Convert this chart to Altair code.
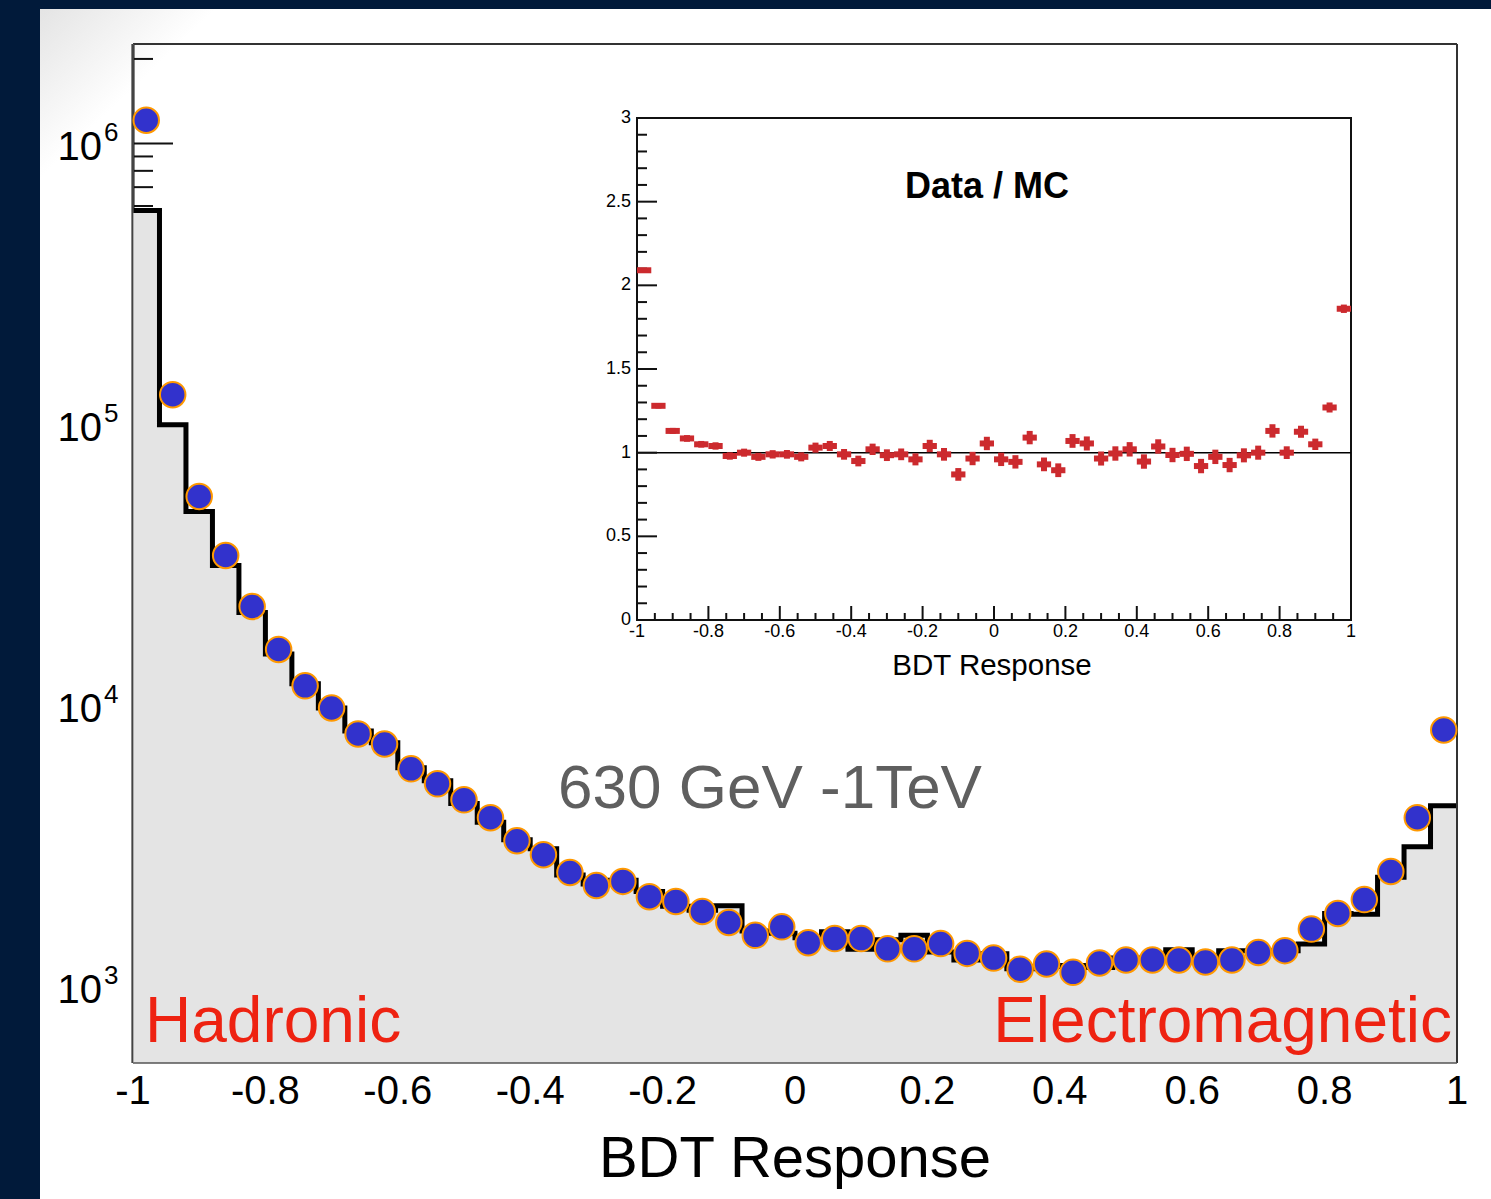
import altair as alt
import pandas as pd

FONT = "Liberation Sans"
NAVY = "#011a3a"
W, H = 1324, 1019                       # main plot area
IN_L, IN_R, IN_T, IN_B = 504, 1218, 74, 576   # inset frame inside plot area
Y_MIN, Y_MAX = 538, 2.26e6

# ---- data ----
bin_lo = [-1.00, -0.96, -0.92, -0.88, -0.84, -0.80, -0.76, -0.72, -0.68, -0.64,
          -0.60, -0.56, -0.52, -0.48, -0.44, -0.40, -0.36, -0.32, -0.28, -0.24,
          -0.20, -0.16, -0.12, -0.08, -0.04, 0.00, 0.04, 0.08, 0.12, 0.16,
          0.20, 0.24, 0.28, 0.32, 0.36, 0.40, 0.44, 0.48, 0.52, 0.56,
          0.60, 0.64, 0.68, 0.72, 0.76, 0.80, 0.84, 0.88, 0.92, 0.96]
bin_hi = [round(v + 0.04, 2) for v in bin_lo]
centers = [round(v + 0.02, 2) for v in bin_lo]

data_counts = [1.21e6, 1.28e5, 5.56e4, 3.43e4, 2.26e4, 1.59e4, 1.18e4, 9840, 7960, 7330,
               5980, 5290, 4640, 4010, 3320, 2960, 2560, 2300, 2380, 2100,
               2020, 1860, 1700, 1530, 1640, 1440, 1490, 1490, 1370, 1370,
               1430, 1320, 1270, 1160, 1210, 1130, 1220, 1250, 1250, 1250,
               1230, 1250, 1330, 1350, 1610, 1830, 2050, 2580, 4010, 8220]

mc_counts = [5.78e5, 1.0e5, 4.92e4, 3.16e4, 2.15e4, 1.53e4, 1.2e4, 9840, 8160, 7400,
             6040, 5420, 4500, 3860, 3350, 3110, 2510, 2330, 2400, 2190,
             1940, 1880, 1950, 1585, 1555, 1500, 1575, 1365, 1475, 1530,
             1335, 1250, 1315, 1165, 1185, 1195, 1175, 1270, 1260, 1360,
             1260, 1350, 1350, 1350, 1425, 1830, 1820, 2460, 3160, 4420]

ratio = [2.09, 1.28, 1.13, 1.085, 1.05, 1.04, 0.98, 1.00, 0.975, 0.99,
         0.99, 0.975, 1.03, 1.04, 0.99, 0.95, 1.02, 0.985, 0.99, 0.96,
         1.04, 0.99, 0.87, 0.965, 1.055, 0.96, 0.945, 1.09, 0.93, 0.895,
         1.07, 1.055, 0.965, 0.995, 1.02, 0.947, 1.037, 0.986, 0.993, 0.92,
         0.975, 0.926, 0.984, 1.00, 1.13, 1.00, 1.125, 1.05, 1.27, 1.86]

ratio_err = [0.0, 0.006, 0.008, 0.01, 0.01, 0.012, 0.012, 0.014, 0.014, 0.015,
             0.016, 0.017, 0.02, 0.02, 0.022, 0.022, 0.024, 0.025, 0.025, 0.026,
             0.027, 0.028, 0.028, 0.03, 0.03, 0.03, 0.03, 0.03, 0.031, 0.031,
             0.031, 0.032, 0.032, 0.033, 0.033, 0.033, 0.033, 0.033, 0.033, 0.033,
             0.033, 0.033, 0.032, 0.032, 0.03, 0.028, 0.026, 0.024, 0.02, 0.015]

x_ticks = [-1, -0.8, -0.6, -0.4, -0.2, 0, 0.2, 0.4, 0.6, 0.8, 1]
x_labels = ["-1", "-0.8", "-0.6", "-0.4", "-0.2", "0", "0.2", "0.4", "0.6", "0.8", "1"]
y_major = [1e3, 1e4, 1e5, 1e6]
y_exp = ["3", "4", "5", "6"]
y_minor = [2e3, 3e3, 4e3, 5e3, 6e3, 7e3, 8e3, 9e3,
           2e4, 3e4, 4e4, 5e4, 6e4, 7e4, 8e4, 9e4,
           2e5, 3e5, 4e5, 5e5, 6e5, 7e5, 8e5, 9e5, 2e6]

in_x_major = [-1, -0.8, -0.6, -0.4, -0.2, 0, 0.2, 0.4, 0.6, 0.8, 1]
in_x_labels = ["-1", "-0.8", "-0.6", "-0.4", "-0.2", "0", "0.2", "0.4", "0.6", "0.8", "1"]
in_x_minor = [-0.95, -0.9, -0.85, -0.75, -0.7, -0.65, -0.55, -0.5, -0.45, -0.35, -0.3, -0.25,
              -0.15, -0.1, -0.05, 0.05, 0.1, 0.15, 0.25, 0.3, 0.35, 0.45, 0.5, 0.55,
              0.65, 0.7, 0.75, 0.85, 0.9, 0.95]
in_y_major = [0, 0.5, 1, 1.5, 2, 2.5, 3]
in_y_labels = ["0", "0.5", "1", "1.5", "2", "2.5", "3"]
in_y_minor = [0.1, 0.2, 0.3, 0.4, 0.6, 0.7, 0.8, 0.9, 1.1, 1.2, 1.3, 1.4, 1.6, 1.7, 1.8, 1.9,
              2.1, 2.2, 2.3, 2.4, 2.6, 2.7, 2.8, 2.9]
ref_line = [1.0]

# ---- tables ----
pts = pd.DataFrame({"c": centers, "data": data_counts})
step = pd.DataFrame({"x": bin_lo + [1.0], "mc": mc_counts + [mc_counts[-1]]})
rat = pd.DataFrame({"lo": bin_lo, "hi": bin_hi, "c": centers, "r": ratio, "e": ratio_err})
one = pd.DataFrame({"k": [0]})

xs = alt.Scale(domain=[-1, 1], nice=False, zero=False)
ys = alt.Scale(type="log", domain=[Y_MIN, Y_MAX], nice=False)
ixs = alt.Scale(domain=[-1, 1], range=[IN_L, IN_R], nice=False, zero=False)
iys = alt.Scale(domain=[0, 3], range=[IN_B, IN_T], nice=False, zero=False)

# ---- main panel ----
panel = alt.Chart(one).mark_rect(
    fill=alt.Gradient(gradient="linear", x1=0, y1=0, x2=0.07, y2=0.06,
                      stops=[alt.GradientStop(offset=0, color="#e4e4e4"),
                             alt.GradientStop(offset=1, color="#ffffff")])
).encode(x=alt.value(-93), x2=alt.value(W + 34), y=alt.value(-35), y2=alt.value(H + 136))

left_axis = alt.Chart(one).mark_rule(color="#111111", strokeWidth=3).encode(
    x=alt.value(0), y=alt.value(0), y2=alt.value(H))

maj_ticks = alt.Chart(pd.DataFrame({"v": y_major})).mark_rule(color="#111111", strokeWidth=2).encode(
    y=alt.Y("v:Q", scale=ys, axis=None), x=alt.value(0), x2=alt.value(40))
min_ticks = alt.Chart(pd.DataFrame({"v": y_minor})).mark_rule(color="#111111", strokeWidth=2).encode(
    y=alt.Y("v:Q", scale=ys, axis=None), x=alt.value(0), x2=alt.value(20))

fill = alt.Chart(step).transform_calculate(base=str(Y_MIN)).mark_area(
    interpolate="step-after", color="#e4e4e4", opacity=1).encode(
    x=alt.X("x:Q", scale=xs, axis=None),
    y=alt.Y("mc:Q", scale=ys, axis=None),
    y2="base:Q")

line = alt.Chart(step).mark_line(interpolate="step-after", color="black", strokeWidth=5).encode(
    x=alt.X("x:Q", scale=xs, axis=None), y=alt.Y("mc:Q", scale=ys, axis=None))

frame_top = alt.Chart(one).mark_rule(color="#333333", strokeWidth=2).encode(
    x=alt.value(0), x2=alt.value(W), y=alt.value(0))
frame_right = alt.Chart(one).mark_rule(color="#333333", strokeWidth=2).encode(
    x=alt.value(W), y=alt.value(0), y2=alt.value(H))
frame_bottom = alt.Chart(one).mark_rule(color="#555555", strokeWidth=1.5).encode(
    x=alt.value(0), x2=alt.value(W), y=alt.value(H))
frame_left = alt.Chart(one).mark_rule(color="#777777", strokeWidth=1).encode(
    x=alt.value(0), y=alt.value(0), y2=alt.value(H))

points = alt.Chart(pts).mark_circle(size=650, color="#3232cc", opacity=1,
                                   stroke="#ff9900", strokeWidth=2).encode(
    x=alt.X("c:Q", scale=xs, axis=None), y=alt.Y("data:Q", scale=ys, axis=None))

ylab = pd.DataFrame({"v": y_major, "exp": y_exp})
ylab_base = alt.Chart(ylab).mark_text(align="right", baseline="middle", dy=4, font=FONT,
                                      fontSize=40, color="black").encode(
    y=alt.Y("v:Q", scale=ys, axis=None), x=alt.value(-31), text=alt.value("10"))
ylab_exp = alt.Chart(ylab).mark_text(align="left", baseline="middle", dy=-11, font=FONT,
                                     fontSize=26, color="black").encode(
    y=alt.Y("v:Q", scale=ys, axis=None), x=alt.value(-29), text="exp:N")

xlab = alt.Chart(pd.DataFrame({"v": x_ticks, "t": x_labels})).mark_text(
    align="center", baseline="middle", font=FONT, fontSize=40, color="black").encode(
    x=alt.X("v:Q", scale=xs, axis=None), y=alt.value(H + 29), text="t:N")
xtitle = alt.Chart(one).mark_text(align="center", baseline="middle", font=FONT, fontSize=58,
                                  color="black").encode(
    x=alt.value(W / 2), y=alt.value(H + 97), text=alt.value("BDT Response"))

t_had = alt.Chart(one).mark_text(align="left", baseline="alphabetic", font=FONT, fontSize=64,
                                 color="#ee2211").encode(
    x=alt.value(12), y=alt.value(998), text=alt.value("Hadronic"))
t_em = alt.Chart(one).mark_text(align="right", baseline="alphabetic", font=FONT, fontSize=64,
                                color="#ee2211").encode(
    x=alt.value(1319), y=alt.value(998), text=alt.value("Electromagnetic"))
t_en = alt.Chart(one).mark_text(align="center", baseline="alphabetic", font=FONT, fontSize=62,
                                color="#5f5f5f").encode(
    x=alt.value(637), y=alt.value(764), text=alt.value("630 GeV -1TeV"))

main = alt.layer(panel, left_axis, maj_ticks, min_ticks, fill, line, frame_top, frame_right,
                 frame_bottom, frame_left, points, ylab_base, ylab_exp, xlab, xtitle,
                 t_had, t_em, t_en)

# ---- inset ----
RED = "#cc2a2e"
in_frame = alt.Chart(one).mark_rect(fillOpacity=0, stroke="#111111", strokeWidth=2).encode(
    x=alt.value(IN_L), x2=alt.value(IN_R), y=alt.value(IN_T), y2=alt.value(IN_B))
in_ref = alt.Chart(pd.DataFrame({"v": ref_line})).mark_rule(color="black", strokeWidth=1.5).encode(
    y=alt.Y("v:Q", scale=iys, axis=None), x=alt.value(IN_L), x2=alt.value(IN_R))
in_ymaj = alt.Chart(pd.DataFrame({"v": in_y_major})).mark_rule(color="#111111", strokeWidth=2).encode(
    y=alt.Y("v:Q", scale=iys, axis=None), x=alt.value(IN_L), x2=alt.value(IN_L + 20))
in_ymin = alt.Chart(pd.DataFrame({"v": in_y_minor})).mark_rule(color="#111111", strokeWidth=2).encode(
    y=alt.Y("v:Q", scale=iys, axis=None), x=alt.value(IN_L), x2=alt.value(IN_L + 10))
in_xmaj = alt.Chart(pd.DataFrame({"v": in_x_major})).mark_rule(color="#111111", strokeWidth=2).encode(
    x=alt.X("v:Q", scale=ixs, axis=None), y=alt.value(IN_B), y2=alt.value(IN_B - 14))
in_xmin = alt.Chart(pd.DataFrame({"v": in_x_minor})).mark_rule(color="#111111", strokeWidth=2).encode(
    x=alt.X("v:Q", scale=ixs, axis=None), y=alt.value(IN_B), y2=alt.value(IN_B - 7))
in_xlab = alt.Chart(pd.DataFrame({"v": in_x_major, "t": in_x_labels})).mark_text(
    align="center", baseline="middle", font=FONT, fontSize=18, color="black").encode(
    x=alt.X("v:Q", scale=ixs, axis=None), y=alt.value(IN_B + 12), text="t:N")
in_ylab = alt.Chart(pd.DataFrame({"v": in_y_major, "t": in_y_labels})).mark_text(
    align="right", baseline="middle", font=FONT, fontSize=18, color="black").encode(
    y=alt.Y("v:Q", scale=iys, axis=None), x=alt.value(IN_L - 6), text="t:N")
in_title = alt.Chart(one).mark_text(align="center", baseline="middle", font=FONT, fontSize=36,
                                    fontWeight="bold", color="black").encode(
    x=alt.value(854), y=alt.value(143), text=alt.value("Data / MC"))
in_xtitle = alt.Chart(one).mark_text(align="center", baseline="middle", font=FONT, fontSize=29.5,
                                     color="black").encode(
    x=alt.value(859), y=alt.value(622), text=alt.value("BDT Response"))

in_h = alt.Chart(rat).mark_rule(color=RED, strokeWidth=6).encode(
    x=alt.X("lo:Q", scale=ixs, axis=None), x2="hi:Q", y=alt.Y("r:Q", scale=iys, axis=None))
in_v = alt.Chart(rat).transform_calculate(
    lo_r="datum.r - datum.e - 0.01", hi_r="datum.r + datum.e + 0.01"
).mark_rule(color=RED, strokeWidth=6).encode(
    x=alt.X("c:Q", scale=ixs, axis=None), y=alt.Y("lo_r:Q", scale=iys, axis=None), y2="hi_r:Q")

inset = alt.layer(in_frame, in_ref, in_ymaj, in_ymin, in_xmaj, in_xmin, in_xlab, in_ylab,
                  in_title, in_xtitle, in_h, in_v)

chart = alt.layer(main, inset).resolve_scale(x="independent", y="independent").properties(
    width=W, height=H, background=NAVY,
    padding={"left": 133, "top": 44, "right": 34, "bottom": 136},
    autosize=alt.AutoSizeParams(type="none"),
).configure_view(stroke=None)

chart.save("out.html", embed_options={"renderer": "svg", "actions": False})
